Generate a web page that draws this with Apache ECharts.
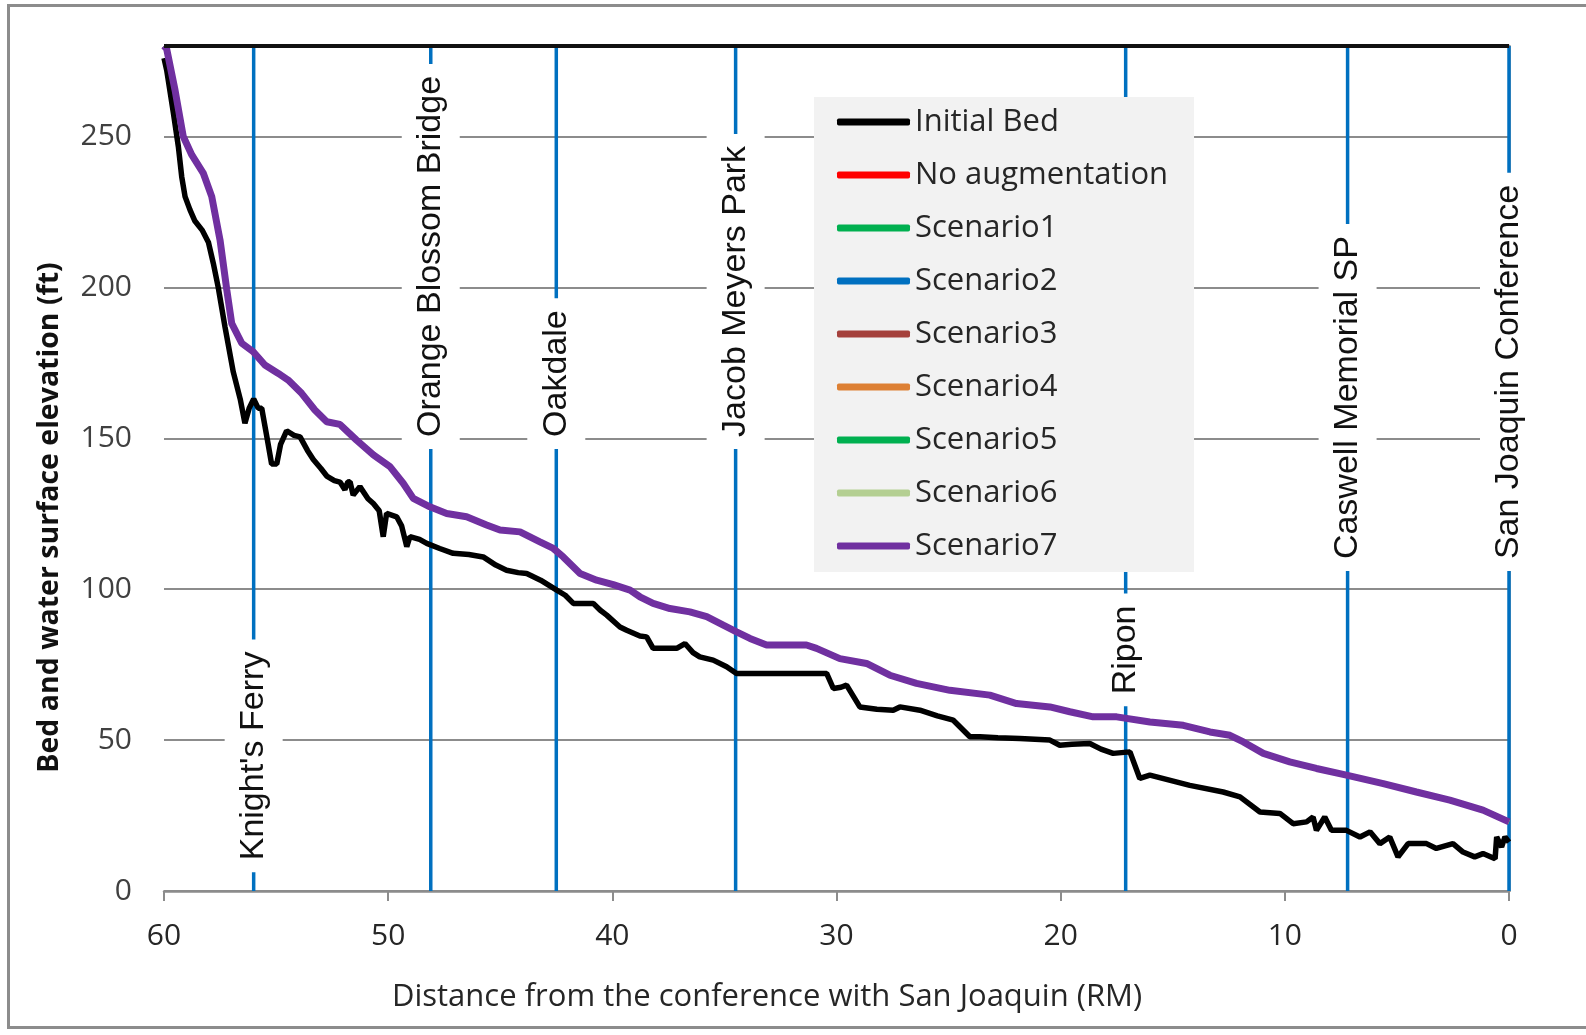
<!DOCTYPE html>
<html lang="en">

<head>
    <meta charset="UTF-8">
    <meta name="viewport" content="width=device-width, initial-scale=1.0">
    <script src="https://cdn.jsdelivr.net/npm/echarts@6.0.0/dist/echarts.min.js"></script>
    <title>Bed and water surface elevation</title>
    <style>
        body { margin: 0; background: #fff; }
        #frame { position: absolute; left: 7px; top: 4px; width: 1600px; height: 1025px; border: 3px solid #8c8c8c; box-sizing: border-box; }
        #main { position: absolute; left: 0; top: 0; width: 1586px; height: 1035px; }
    </style>
</head>

<body>
    <div id="frame"></div>
    <div id="main"></div>

    <script>
        // initial bed profile (river mile, elevation ft)
        var bedRM = [60.0, 59.88, 59.58, 59.36, 59.21, 59.06, 58.84, 58.62, 58.3, 58.02, 57.8, 57.58, 57.28, 56.91, 56.6, 56.39, 56.2, 56.0, 55.8, 55.64, 55.4, 55.2, 54.97, 54.8, 54.53, 54.2, 53.93, 53.6, 53.34, 53.0, 52.74, 52.4, 52.15, 51.93, 51.8, 51.7, 51.56, 51.26, 50.9, 50.66, 50.4, 50.22, 50.07, 49.62, 49.4, 49.17, 49.03, 48.6, 48.28, 47.7, 47.1, 46.4, 45.76, 45.2, 44.72, 44.2, 43.82, 43.2, 42.48, 42.1, 41.74, 40.85, 40.55, 40.25, 39.66, 39.36, 38.77, 38.47, 38.18, 37.13, 36.76, 36.4, 36.1, 35.5, 34.9, 34.46, 30.44, 30.14, 29.8, 29.55, 28.96, 28.2, 27.47, 27.17, 26.28, 25.5, 24.79, 24.05, 23.6, 22.8, 21.82, 20.48, 20.04, 19.5, 18.7, 18.2, 17.66, 16.91, 16.47, 16.02, 14.24, 12.75, 12.0, 11.11, 10.22, 9.63, 9.03, 8.74, 8.59, 8.22, 7.92, 7.25, 6.65, 6.2, 5.76, 5.32, 4.95, 4.5, 3.68, 3.24, 2.5, 2.05, 1.53, 1.16, 0.62, 0.55, 0.33, 0.18, 0];
        var bedElev = [276, 272, 257.8, 246.7, 236.7, 230.1, 225.7, 222, 219, 215, 208, 200, 187, 172, 163, 155, 160, 163, 160, 160, 150, 141.5, 141.5, 148, 152.5, 151, 150.5, 146, 143, 140, 137.5, 136, 135.5, 133, 135.5, 135.6, 131.2, 134, 130, 128.4, 126, 117.4, 125.1, 124, 121, 114.1, 117.4, 116.5, 115.2, 113.5, 111.9, 111.5, 110.7, 108, 106.3, 105.5, 105.2, 103, 99.7, 98, 95.3, 95.3, 93.1, 91.4, 87.5, 86.4, 84.5, 84.2, 80.4, 80.4, 82, 79, 77.6, 76.5, 74.3, 72.1, 72.1, 67.1, 67.5, 68.2, 61, 60.2, 59.9, 61, 59.9, 58, 56.6, 51.1, 51.1, 50.8, 50.5, 50, 48.3, 48.6, 48.9, 47, 45.6, 46.1, 37.3, 38.4, 35, 32.8, 31.2, 26.2, 25.7, 22.3, 22.9, 24.5, 20.1, 24.5, 20.1, 20.1, 17.9, 19.6, 15.7, 17.9, 11.3, 15.7, 15.7, 14.1, 15.7, 12.9, 11.3, 12.4, 10.7, 17.9, 14.6, 17.9, 16.2];

        // water surface (all scenarios plot on top of each other)
        var wsRM = [60.0, 59.88, 59.51, 59.14, 58.76, 58.25, 57.87, 57.5, 57.2, 56.98, 56.53, 56.02, 55.5, 54.9, 54.46, 53.86, 53.27, 52.74, 52.15, 51.41, 50.66, 49.92, 49.33, 48.88, 48.14, 47.39, 46.5, 45.61, 45.01, 44.12, 43.23, 42.63, 42.19, 41.44, 40.7, 39.96, 39.21, 38.77, 38.18, 37.43, 36.54, 35.79, 35.05, 34.46, 33.86, 33.12, 31.34, 30.89, 29.85, 28.66, 27.62, 26.43, 24.94, 23.16, 21.97, 20.48, 19.59, 18.55, 17.5, 16.02, 14.53, 13.34, 12.45, 11.85, 10.96, 9.78, 8.59, 7.25, 5.61, 4.13, 2.64, 1.16, 0];
        var wsElev = [280, 279, 265.5, 250, 243.9, 237.9, 230.1, 215.7, 199.2, 188.1, 181.5, 178.7, 174.3, 171.5, 169.3, 164.9, 159.4, 155.5, 154.6, 149.4, 144.5, 140.6, 135.1, 130.1, 127.3, 125.1, 124, 121.3, 119.6, 119, 115.7, 113.5, 110.7, 105.2, 103, 101.5, 99.7, 97.5, 95.3, 93.6, 92.5, 90.9, 88.1, 85.9, 83.7, 81.5, 81.5, 80.4, 77, 75.4, 71.5, 68.8, 66.5, 64.9, 62.1, 61, 59.4, 57.7, 57.7, 56, 54.9, 52.7, 51.6, 49.4, 45.6, 42.8, 40.6, 38.4, 35.6, 32.8, 30.1, 26.8, 22.9];

        var scenarioNames = ['No augmentation', 'Scenario1', 'Scenario2', 'Scenario3', 'Scenario4', 'Scenario5', 'Scenario6', 'Scenario7'];
        var scenarioColors = ['#ff0000', '#00b050', '#0070c0', '#a5413c', '#dd8034', '#00b050', '#b4cf92', '#7030a0'];

        // landmarks along the river
        var siteNames = ["Knight's Ferry", 'Orange Blossom Bridge', 'Oakdale', 'Jacob Meyers Park', 'Ripon', 'Caswell Memorial SP', 'San Joaquin Conference'];
        var siteRM = [56.0, 48.1, 42.5, 34.5, 17.1, 7.2, 0];
        var siteLabelAt = [6.2, 146.5, 146.5, 146.5, 61.2, 106, 106];

        var yTicks = [0, 50, 100, 150, 200, 250];
        var yTop = 280;

        function pairs(xs, ys) {
            var out = [];
            for (var i = 0; i < xs.length; i++) {
                out.push([xs[i], ys[i]]);
            }
            return out;
        }

        var myChart = echarts.init(document.getElementById('main'));

        var series = [];

        // blue landmark line + its name in a white box, drawn together so the box sits on the line
        series.push({
            name: 'sites',
            type: 'custom',
            z: 2,
            silent: true,
            data: siteRM.map(function (x, i) { return [x, siteLabelAt[i]]; }),
            renderItem: function (params, api) {
                var x = api.value(0);
                var bottom = api.coord([x, 0]);
                var top = api.coord([x, yTop]);
                var anchor = api.coord([x, api.value(1)]);
                return {
                    type: 'group',
                    children: [{
                        type: 'line',
                        shape: { x1: bottom[0], y1: bottom[1], x2: top[0], y2: top[1] },
                        style: { stroke: '#0070c0', lineWidth: 3.5 }
                    }, {
                        type: 'text',
                        x: anchor[0],
                        y: anchor[1],
                        rotation: Math.PI / 2,
                        style: {
                            text: siteNames[params.dataIndex],
                            fill: '#111111',
                            font: '34px "Liberation Sans"',
                            align: 'left',
                            verticalAlign: 'middle',
                            lineHeight: 38,
                            backgroundColor: '#ffffff',
                            padding: [10, 12, 10, 12]
                        }
                    }]
                };
            }
        });

        series.push({
            name: 'Initial Bed',
            type: 'line',
            data: pairs(bedRM, bedElev),
            symbol: 'none',
            z: 5,
            lineStyle: { color: '#000000', width: 5.5 },
            itemStyle: { color: '#000000' },
            markLine: {
                silent: true,
                z: 6,
                symbol: ['none', 'none'],
                label: { show: false },
                lineStyle: { color: '#111111', width: 4, type: 'solid' },
                data: [{ yAxis: yTop }]
            }
        });

        for (var i = 0; i < scenarioNames.length; i++) {
            series.push({
                name: scenarioNames[i],
                type: 'line',
                data: pairs(wsRM, wsElev),
                symbol: 'none',
                z: 5,
                lineStyle: { color: scenarioColors[i], width: i == 7 ? 7 : 5 },
                itemStyle: { color: scenarioColors[i] }
            });
        }

        var option = {
            animation: false,
            grid: { left: 164, right: 77, top: 46, bottom: 144 },
            legend: {
                orient: 'vertical',
                left: 814,
                top: 97,
                backgroundColor: '#f2f2f2',
                padding: [7, 26, 8, 23],
                itemGap: 17,
                itemWidth: 73,
                itemHeight: 7,
                icon: 'roundRect',
                selectedMode: false,
                data: ['Initial Bed'].concat(scenarioNames),
                textStyle: { fontFamily: 'Open Sans', fontSize: 31, lineHeight: 36, color: '#262626' }
            },
            xAxis: {
                type: 'value',
                inverse: true,
                min: 0,
                max: 60,
                interval: 10,
                name: 'Distance from the conference with San Joaquin (RM)',
                nameLocation: 'middle',
                nameGap: 91,
                nameTextStyle: { fontFamily: 'Open Sans', fontSize: 31, color: '#262626', padding: [0, 139, 0, 0] },
                axisLine: { lineStyle: { color: '#8c8c8c', width: 2.5 } },
                axisTick: { length: 10, lineStyle: { color: '#8c8c8c', width: 2 } },
                axisLabel: { margin: 30, fontFamily: 'Open Sans', fontSize: 30, color: '#262626' },
                splitLine: { show: false }
            },
            yAxis: {
                type: 'value',
                min: 0,
                max: yTop,
                interval: 50,
                name: 'Bed and water surface elevation (ft)',
                nameLocation: 'middle',
                nameRotate: 90,
                nameGap: 100,
                nameTextStyle: { fontFamily: 'Open Sans', fontSize: 28.5, fontWeight: 'bold', color: '#111', padding: [0, 98, 0, 0] },
                axisLine: { show: true, lineStyle: { color: '#8c8c8c', width: 2.5 } },
                axisTick: { show: true, length: 10, customValues: yTicks, lineStyle: { color: '#8c8c8c', width: 2 } },
                axisLabel: { margin: 32, customValues: yTicks, fontFamily: 'Open Sans', fontSize: 30, color: '#404040' },
                splitLine: { lineStyle: { color: '#8c8c8c', width: 2 } }
            },
            series: series
        };

        myChart.setOption(option);
    </script>

</body>

</html>
